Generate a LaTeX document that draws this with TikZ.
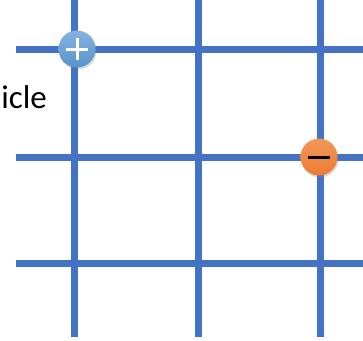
\documentclass[tikz,border=0pt]{standalone}
\usepackage{fontspec}
\setmainfont{Carlito}
\usetikzlibrary{shadows}

\definecolor{gridblue}{RGB}{68,114,196}
\definecolor{posblue}{RGB}{91,155,213}
\definecolor{negorange}{RGB}{237,125,49}

\begin{document}
\begin{tikzpicture}[
    x=1pt, y=-1pt,
    gridline/.style={gridblue, line width=7pt},
    charge/.style={circle, minimum size=37pt, inner sep=0pt, drop shadow={opacity=0.3, shadow xshift=1pt, shadow yshift=-2pt}},
    sign/.style={line width=3pt}
]

\useasboundingbox (0,0) rectangle (363,340);

% Grid
\foreach \x in {74,198,320}
    \draw[gridline] (\x,0) -- (\x,337);
\foreach \y in {49,157,263}
    \draw[gridline] (16,\y) -- (363,\y);

% Label
\node[anchor=base east, inner sep=0pt, font=\fontsize{33}{40}\selectfont] (label) at (47,108) {icle};

% Charges
\node[charge, top color=posblue!75!white, bottom color=posblue!95!black] (pos) at (77,49) {};
\node[charge, top color=negorange!80!white, bottom color=negorange] (neg) at (319,157) {};

\draw[sign, white] ([xshift=-11pt]pos.center) -- ([xshift=11pt]pos.center);
\draw[sign, white] ([yshift=-11pt]pos.center) -- ([yshift=11pt]pos.center);
\draw[sign, black] ([xshift=-11pt]neg.center) -- ([xshift=11pt]neg.center);

\end{tikzpicture}
\end{document}
